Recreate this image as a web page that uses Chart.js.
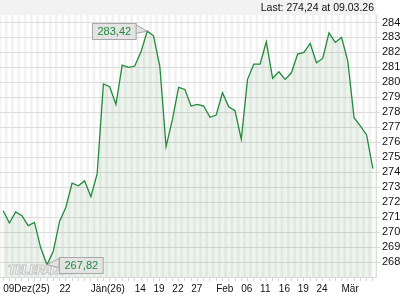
<!DOCTYPE html>
<html><head><meta charset="utf-8">
<script src="https://cdn.jsdelivr.net/npm/chart.js@4.4.1/dist/chart.umd.min.js"></script>
<style>html,body{margin:0;padding:0;background:#fff;}canvas{display:block;}</style>
</head><body>
<canvas id="c" width="420" height="300"></canvas>
<script>
const categories = [
  '09.12.25','10.12.25','11.12.25','12.12.25','15.12.25','16.12.25','17.12.25','18.12.25','19.12.25','22.12.25','23.12.25','29.12.25','30.12.25',
  '02.01.26','05.01.26','06.01.26','07.01.26','08.01.26','09.01.26','12.01.26','13.01.26','14.01.26','15.01.26','16.01.26','19.01.26','20.01.26','21.01.26','22.01.26','23.01.26','26.01.26','27.01.26','28.01.26','29.01.26','30.01.26',
  '02.02.26','03.02.26','04.02.26','05.02.26','06.02.26','09.02.26','10.02.26','11.02.26','12.02.26','13.02.26','16.02.26','17.02.26','18.02.26','19.02.26','20.02.26','23.02.26','24.02.26','25.02.26','26.02.26','27.02.26',
  '02.03.26','03.03.26','04.03.26','05.03.26','06.03.26','09.03.26'
];
const prices = [
  271.43, 270.61, 271.35, 271.10, 270.43, 270.65, 268.95, 267.82, 268.71, 270.71,
  271.64, 273.27, 273.09, 273.42, 272.37, 273.89, 279.89, 279.71, 278.53, 281.15,
  281.00, 281.09, 282.04, 283.42, 283.11, 281.09, 275.71, 277.49, 279.67, 279.53,
  278.42, 278.53, 278.42, 277.67, 277.82, 279.31, 278.37, 278.11, 276.20, 280.20,
  281.22, 281.22, 282.71, 280.27, 280.71, 280.20, 280.64, 281.89, 282.00, 282.60,
  281.31, 281.60, 283.31, 282.67, 283.00, 281.42, 277.64, 277.09, 276.49, 274.24
];
const yTicks = [268,269,270,271,272,273,274,275,276,277,278,279,280,281,282,283,284];
const xTickDates = ['09.12.25','22.12.25','05.01.26','14.01.26','19.01.26','22.01.26','27.01.26','02.02.26','06.02.26','11.02.26','16.02.26','19.02.26','24.02.26','02.03.26'];
const xTickTexts = ['09Dez(25)','22','Jän(26)','14','19','22','27','Feb','06','11','16','19','24','Mär'];
const watermarkText = 'TELERADER';

const fmt = v => v.toFixed(2).replace('.', ',');
const lastIdx = prices.length - 1;
const lastText = 'Last: ' + fmt(prices[lastIdx]) + ' at ' + categories[lastIdx];
const FONT = '"Liberation Sans", Arial, sans-serif';

function callout(ctx, px, py, text, side) {
  ctx.font = '11px ' + FONT;
  const w = ctx.measureText(text).width + 10, h = 16;
  const gap = 12;
  const bx = side === 'left' ? px - gap - w : px + gap;
  const by = Math.round(py - 8) + 0.5;
  const edge = side === 'left' ? bx + w : bx;
  ctx.fillStyle = '#e3e3e3';
  ctx.strokeStyle = '#a8a8a8';
  ctx.lineWidth = 1;
  ctx.beginPath();
  ctx.moveTo(edge, by + 1);
  ctx.lineTo(px, py);
  ctx.lineTo(edge, by + 10);
  ctx.closePath();
  ctx.fill(); ctx.stroke();
  ctx.fillRect(Math.round(bx) + 0.5, by, w, h);
  ctx.strokeRect(Math.round(bx) + 0.5, by, w, h);
  ctx.fillStyle = '#1e8a3c';
  ctx.textAlign = 'center'; ctx.textBaseline = 'middle';
  ctx.fillText(text, Math.round(bx) + 0.5 + w / 2, by + h / 2 + 0.5);
}

const decor = {
  id: 'decor',
  beforeDraw(chart) {
    const {ctx, chartArea: a} = chart;
    const xs = chart.scales.x;
    ctx.save();
    ctx.fillStyle = '#fff'; ctx.fillRect(0, 0, chart.width, chart.height);
    ctx.fillStyle = '#f2f2f2'; ctx.fillRect(0, 0, a.right, a.top);
    ctx.fillStyle = '#f2f2f2'; ctx.fillRect(a.left, a.top, a.right - a.left, a.bottom - a.top);
    ctx.fillStyle = '#ffffff';
    for (let i = 0; i < categories.length; i++) {
      const x = xs.getPixelForValue(i);
      ctx.fillRect(x - 1.8, a.top, 3.6, a.bottom - a.top);
    }
    ctx.font = '10.5px ' + FONT; ctx.fillStyle = '#111';
    ctx.textAlign = 'right'; ctx.textBaseline = 'middle';
    ctx.fillText(lastText, a.right - 2, 8);
    ctx.restore();
  },
  afterDatasetsDraw(chart) {
    const {ctx, chartArea: a} = chart;
    const xs = chart.scales.x, ys = chart.scales.y;
    ctx.save();
    // watermark
    ctx.font = 'bold italic 12px "DejaVu Sans", sans-serif';
    ctx.textBaseline = 'middle'; ctx.textAlign = 'left';
    ctx.strokeStyle = '#c6c6c6'; ctx.lineWidth = 1; ctx.fillStyle = 'rgba(255,255,255,0.7)';
    for (let k = 0; k < watermarkText.length; k++) {
      const x = a.left + 8 + k * 7, y = a.bottom - 6;
      ctx.fillText(watermarkText[k], x, y);
      ctx.strokeText(watermarkText[k], x, y);
    }
    let maxI = 0, minI = 0;
    prices.forEach((v, i) => { if (v > prices[maxI]) maxI = i; if (v < prices[minI]) minI = i; });
    callout(ctx, xs.getPixelForValue(maxI), ys.getPixelForValue(prices[maxI]), fmt(prices[maxI]), 'left');
    callout(ctx, xs.getPixelForValue(minI), ys.getPixelForValue(prices[minI]), fmt(prices[minI]), 'right');
    ctx.restore();
  }
};

new Chart(document.getElementById('c'), {
  type: 'line',
  data: {
    labels: categories,
    datasets: [{
      data: prices,
      borderColor: '#23893b',
      borderWidth: 1.3,
      backgroundColor: 'rgba(60,120,60,0.09)',
      fill: 'start',
      pointRadius: 0,
      tension: 0
    }]
  },
  options: {
    responsive: false,
    animation: false,
    events: [],
    layout: { padding: { top: 15, left: 0, right: 0, bottom: 0 } },
    plugins: { legend: { display: false }, tooltip: { enabled: false } },
    scales: {
      x: {
        type: 'category',
        offset: true,
        grid: { drawOnChartArea: false, drawTicks: true, tickLength: 4, color: '#d4d4d4', offset: false },
        border: { display: true, color: '#dadada' },
        ticks: {
          autoSkip: false, maxRotation: 0, minRotation: 0, align: 'start', padding: 2,
          color: '#111', font: { size: 10, family: FONT },
          callback: function(v, i) { const k = xTickDates.indexOf(categories[i]); return k >= 0 ? xTickTexts[k] : ''; }
        },
        afterFit: s => { s.height = 23; }
      },
      y: {
        position: 'right',
        min: 267, max: 284.5,
        afterBuildTicks: s => { s.ticks = yTicks.map(v => ({ value: v })); },
        grid: { color: '#dcdcdc', tickLength: 4, drawTicks: true },
        border: { display: true, color: '#dcdcdc' },
        ticks: { padding: 2, color: '#111', font: { size: 11, family: FONT }, callback: v => String(v) },
        afterFit: s => { s.width = 44; }
      }
    }
  },
  plugins: [decor]
});
</script>
</body></html>
